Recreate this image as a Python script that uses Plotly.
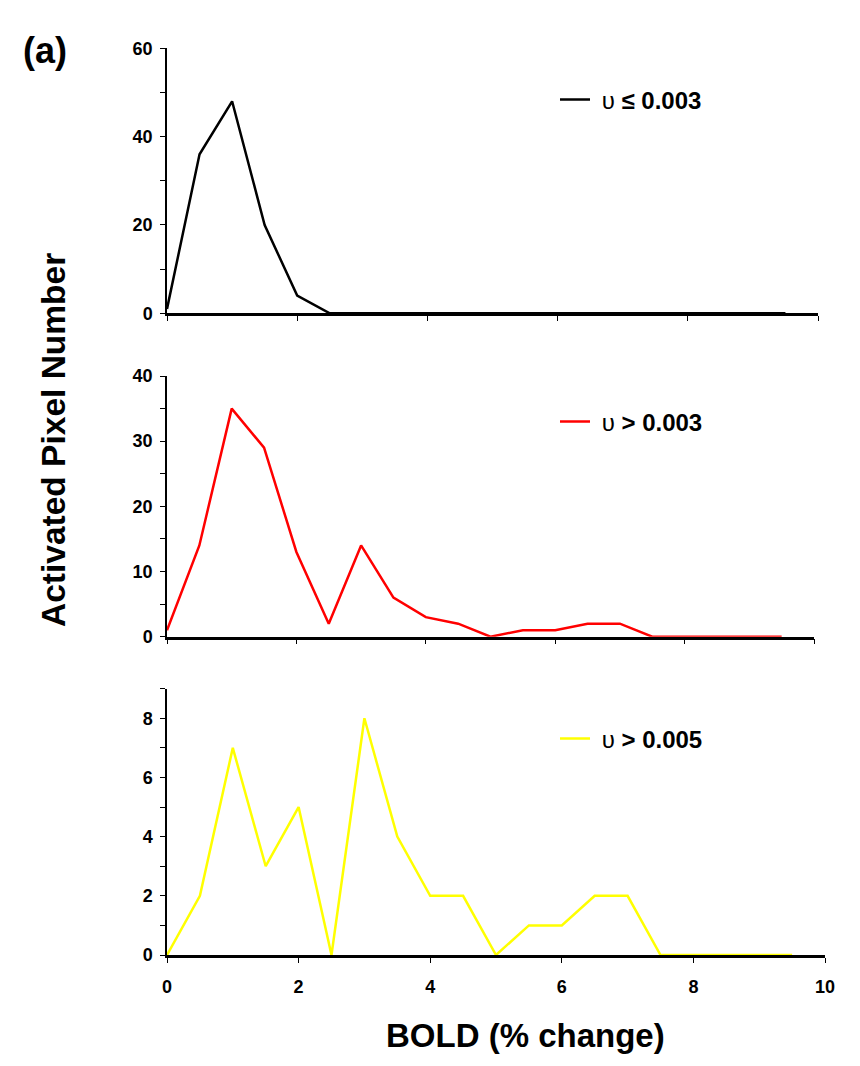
import plotly.graph_objects as go

bold_change = [0, 0.5, 1, 1.5, 2, 2.5, 3, 3.5, 4, 4.5, 5, 5.5, 6, 6.5, 7, 7.5, 8, 8.5, 9, 9.5]
low_u = [1, 36, 48, 20, 4, 0, 0, 0, 0, 0, 0, 0, 0, 0, 0, 0, 0, 0, 0, 0]
mid_u = [1, 14, 35, 29, 13, 2, 14, 6, 3, 2, 0, 1, 1, 2, 2, 0, 0, 0, 0, 0]
high_u = [0, 2, 7, 3, 5, 0, 8, 4, 2, 2, 0, 1, 1, 2, 2, 0, 0, 0, 0, 0]
names = ["&nbsp;<span style='font-weight:normal'>υ</span> ≤ 0.003",
         "&nbsp;<span style='font-weight:normal'>υ</span> > 0.003",
         "&nbsp;<span style='font-weight:normal'>υ</span> > 0.005"]
colors = ["#000000", "#ff0000", "#ffff00"]
x_ticks = [0, 2, 4, 6, 8, 10]

W, H = 860, 1066
OX, OY = 8, 8  # page body margin offset
FONT = "Liberation Sans, Arial, sans-serif"

fig = go.Figure()
series = [low_u, mid_u, high_u]
axes = [("x", "y"), ("x2", "y2"), ("x3", "y3")]
legends = ["legend", "legend2", "legend3"]
for s, c, n, (xa, ya), lg in zip(series, colors, names, axes, legends):
    fig.add_trace(go.Scatter(x=bold_change, y=s, mode="lines", name=n,
                             line=dict(color=c, width=2.5), xaxis=xa, yaxis=ya,
                             legend=lg, showlegend=True))

def px_x(v):
    return (v - OX) / W

def px_y(v):
    return 1 - (v - OY) / H

tickfont = dict(family=FONT, size=18, color="#000", weight="bold")

xdoms = [[px_x(167), px_x(818)], [px_x(167), px_x(814)], [px_x(167), px_x(825)]]
ydoms = [[px_y(313.3), px_y(48.3)], [px_y(636.7), px_y(376)], [px_y(955), px_y(688.7)]]
yranges = [[0, 60], [0, 40], [0, 9]]
ydticks = [20, 10, 2]

layout = dict(
    width=W, height=H,
    margin=dict(l=0, r=0, t=0, b=0),
    paper_bgcolor="white", plot_bgcolor="white",
    font=dict(family=FONT, color="#000"),
)
for i in range(3):
    sx = "" if i == 0 else str(i + 1)
    layout["xaxis" + sx] = dict(
        domain=xdoms[i], range=[0, 10], anchor="y" + sx,
        showgrid=False, zeroline=False, showline=True, linecolor="#000", linewidth=2.5,
        ticks="outside", ticklen=5, tickcolor="#000", tickwidth=1,
        tickvals=x_ticks, showticklabels=(i == 2), tickfont=tickfont,
        ticklabelstandoff=9, layer="below traces", automargin=False, fixedrange=True,
    )
    layout["yaxis" + sx] = dict(
        domain=ydoms[i], range=yranges[i], anchor="x" + sx,
        showgrid=False, zeroline=False, showline=True, linecolor="#000", linewidth=1.5,
        ticks="outside", ticklen=5, tickcolor="#000", tickwidth=1,
        dtick=ydticks[i], tick0=0, tickfont=tickfont, ticklabelstandoff=4,
        minor=dict(dtick=ydticks[i] / 2, ticks="outside", ticklen=5, tickcolor="#000", tickwidth=1, showgrid=False),
        layer="below traces", automargin=False, fixedrange=True,
    )

leg_y = [100, 422, 739]
for lg, yy in zip(legends, leg_y):
    layout[lg] = dict(x=px_x(555), y=px_y(yy), xanchor="left", yanchor="middle",
                      bgcolor="rgba(0,0,0,0)", borderwidth=0, itemwidth=30,
                      font=dict(family=FONT, size=24, color="#000", weight="bold"))

fig.update_layout(**layout)

fig.add_annotation(text="(a)", x=px_x(45), y=px_y(50), xref="paper", yref="paper",
                   showarrow=False, xanchor="center", yanchor="middle",
                   font=dict(family=FONT, size=36, color="#000", weight="bold"))
fig.add_annotation(text="Activated Pixel Number", x=px_x(53), y=px_y(440), xref="paper", yref="paper",
                   showarrow=False, xanchor="center", yanchor="middle", textangle=-90,
                   font=dict(family=FONT, size=33.5, color="#000", weight="bold"))
fig.add_annotation(text="BOLD (% change)", x=px_x(525), y=px_y(1035), xref="paper", yref="paper",
                   showarrow=False, xanchor="center", yanchor="middle",
                   font=dict(family=FONT, size=33, color="#000", weight="bold"))

fig.write_html("out.html")
